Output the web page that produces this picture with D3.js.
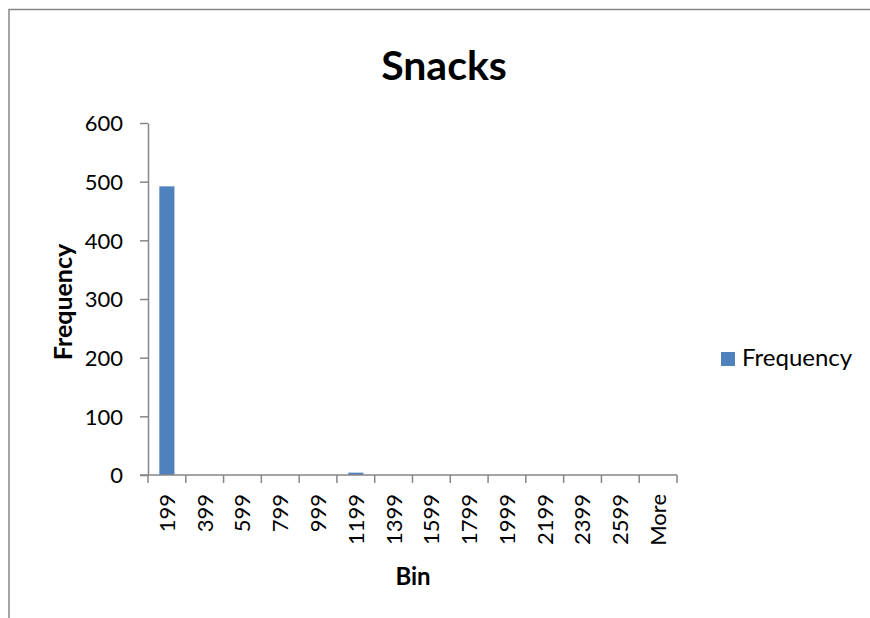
<!DOCTYPE html>
<html>
<head>
<meta charset="utf-8">
<script src="https://cdn.jsdelivr.net/npm/d3@7"></script>
<style>
  html, body { margin: 0; padding: 0; background: #fff; }
  svg { display: block; }
  text { font-family: Lato, "Noto Sans", sans-serif; fill: #000; }
</style>
</head>
<body>
<svg id="chart" width="870" height="618"></svg>
<script>
// Histogram bins and their counts
const bins = ["199", "399", "599", "799", "999", "1199", "1399", "1599", "1799", "1999", "2199", "2399", "2599", "More"];
const frequency = [492, 0, 0, 0, 0, 4, 0, 0, 0, 0, 0, 0, 0, 0];
const yTicks = [0, 100, 200, 300, 400, 500, 600];

const svg = d3.select("#chart");
const axisColor = "#868686";
const barColor = "#4f81bd";

// Chart frame (extends past the right and bottom edges)
svg.append("rect")
  .attr("x", 9).attr("y", 9.5)
  .attr("width", 900).attr("height", 700)
  .attr("fill", "none").attr("stroke", axisColor).attr("stroke-width", 1.5);

const plot = { left: 148, right: 677, top: 123, bottom: 475 };

// one band per bin; bars take 1/2.5 of the band (150% gap)
const xEdge = d3.scaleBand().domain(bins).range([plot.left, plot.right]);
const barW = xEdge.bandwidth() / 2.5;

const y = d3.scaleLinear().domain([0, 600]).range([plot.bottom, plot.top]);

// Bars
svg.append("g").selectAll("rect")
  .data(bins.map((b, i) => ({ bin: b, value: frequency[i] })))
  .join("rect")
  .attr("x", d => xEdge(d.bin) + (xEdge.bandwidth() - barW) / 2)
  .attr("width", barW)
  .attr("y", d => y(d.value))
  .attr("height", d => y(0) - y(d.value))
  .attr("fill", barColor);

// Y axis
const yAxis = svg.append("g")
  .attr("transform", `translate(${plot.left},0)`)
  .call(d3.axisLeft(y).tickValues(yTicks).tickSize(8).tickPadding(17).tickSizeOuter(0));
yAxis.select(".domain").attr("stroke", axisColor).attr("stroke-width", 1.5);
yAxis.selectAll(".tick line").attr("stroke", axisColor).attr("stroke-width", 1.5);
yAxis.selectAll(".tick text")
  .style("font-size", "22px").style("font-family", "Lato, sans-serif").attr("fill", "#000")
  .attr("dy", "0.36em");

// X axis: domain line plus boundary ticks
const xg = svg.append("g").attr("transform", `translate(0,${plot.bottom})`);
xg.append("line")
  .attr("x1", plot.left - 8).attr("x2", plot.right)
  .attr("stroke", axisColor).attr("stroke-width", 1.5);
const edges = bins.map(b => xEdge(b)).concat([plot.right]);
xg.selectAll("line.tick")
  .data(edges)
  .join("line")
  .attr("class", "tick")
  .attr("x1", d => d).attr("x2", d => d)
  .attr("y1", 0).attr("y2", 8)
  .attr("stroke", axisColor).attr("stroke-width", 1.5);
xg.selectAll("text")
  .data(bins)
  .join("text")
  .attr("transform", d => `translate(${xEdge(d) + xEdge.bandwidth() / 2},19) rotate(-90)`)
  .attr("text-anchor", "end")
  .attr("dy", "0.36em")
  .style("font-size", "22px")
  .text(d => d);

// Title
svg.append("text")
  .attr("x", 444).attr("y", 80)
  .attr("text-anchor", "middle")
  .style("font-size", "41px").style("font-weight", "bold")
  .text("Snacks");

// Axis titles
svg.append("text")
  .attr("transform", "translate(72,302) rotate(-90)")
  .attr("text-anchor", "middle")
  .style("font-size", "25px").style("font-weight", "bold")
  .text("Frequency");

svg.append("text")
  .attr("x", 413).attr("y", 585)
  .attr("text-anchor", "middle")
  .style("font-size", "24px").style("font-weight", "bold")
  .text("Bin");

// Legend
const legend = svg.append("g");
legend.append("rect")
  .attr("x", 721).attr("y", 352)
  .attr("width", 14).attr("height", 14)
  .attr("fill", barColor);
legend.append("text")
  .attr("x", 742).attr("y", 366)
  .style("font-size", "24px")
  .text("Frequency");
</script>
</body>
</html>
